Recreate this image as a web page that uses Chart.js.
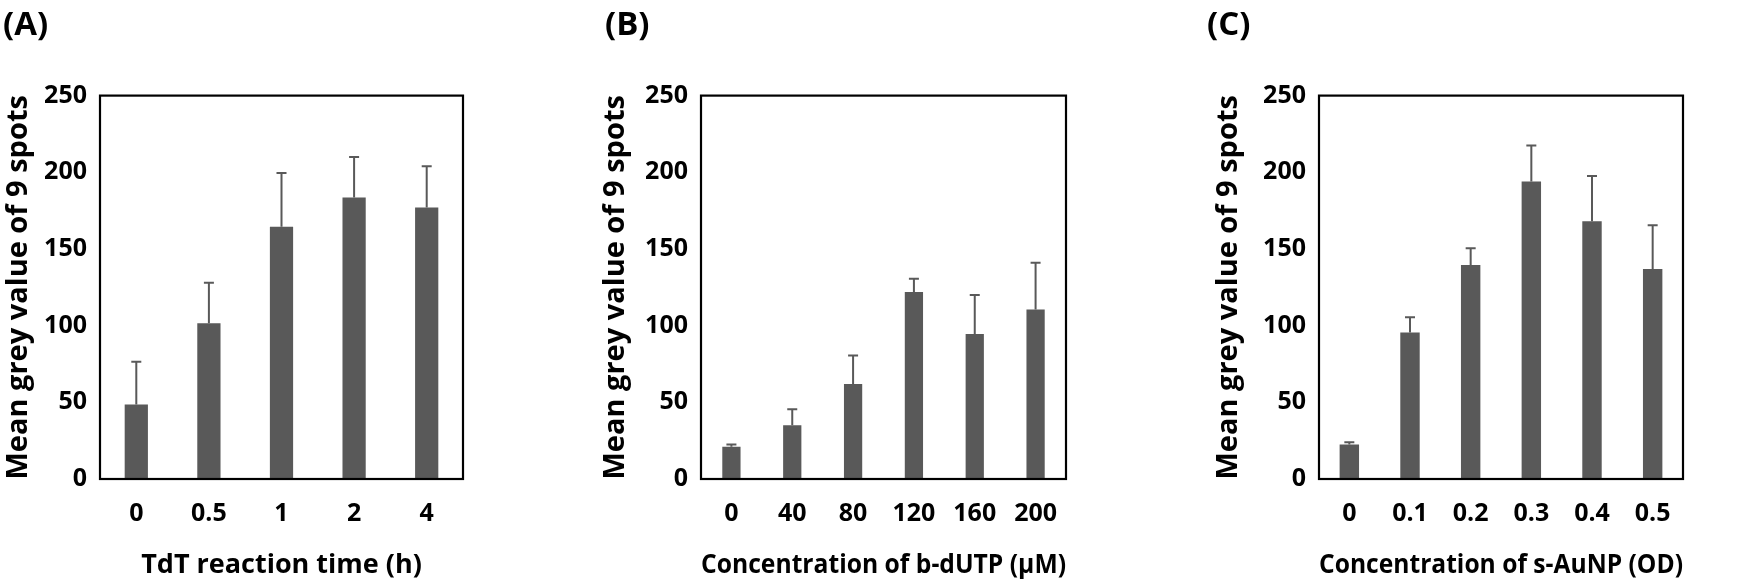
<!DOCTYPE html>
<html>
<head>
<meta charset="utf-8">
<script src="https://cdn.jsdelivr.net/npm/chart.js@4.4.1/dist/chart.umd.min.js"></script>
<style>
  html, body { margin: 0; padding: 0; background: #fff; }
  #wrap { position: relative; width: 1762px; height: 587px; overflow: hidden; }
  canvas { position: absolute; top: 0; }
</style>
</head>
<body>
<div id="wrap">
  <canvas id="chartA" width="590" height="587" style="left:0px"></canvas>
  <canvas id="chartB" width="590" height="587" style="left:590px"></canvas>
  <canvas id="chartC" width="582" height="587" style="left:1180px"></canvas>
</div>
<script>
// shared y axis ticks
const yTicks = [0, 50, 100, 150, 200, 250];

// (A) TdT reaction time
const timeLabels = ["0", "0.5", "1", "2", "4"];
const timeMeans = [48.5, 101.5, 164.5, 183.5, 177];
const timeErrors = [28, 26.5, 35, 26.5, 27];

// (B) b-dUTP concentration
const dutpLabels = ["0", "40", "80", "120", "160", "200"];
const dutpMeans = [21, 35, 62, 122, 94.5, 110.5];
const dutpErrors = [1.5, 10.5, 18.5, 8.5, 25.5, 30.5];

// (C) s-AuNP concentration
const aunpLabels = ["0", "0.1", "0.2", "0.3", "0.4", "0.5"];
const aunpMeans = [22.5, 95.5, 139.5, 194, 168, 137];
const aunpErrors = [1.5, 10, 11, 23.5, 29.5, 28.5];

const BAR_COLOR = "#595959";
const FONT = "'Open Sans', 'Noto Sans', sans-serif";

Chart.defaults.color = "#000";
Chart.defaults.font.family = FONT;

// error bars (upper only) + black frame round the plot area
const frameAndErrors = {
  id: "frameAndErrors",
  afterDatasetsDraw(chart) {
    const { ctx, chartArea: a, scales: { x, y } } = chart;
    const ds = chart.data.datasets[0];
    ctx.save();
    ctx.strokeStyle = BAR_COLOR;
    ctx.lineWidth = 2;
    ds.data.forEach((v, i) => {
      const px = x.getPixelForValue(i);
      const y0 = y.getPixelForValue(v);
      const y1 = y.getPixelForValue(v + ds.errors[i]);
      ctx.beginPath();
      ctx.moveTo(px, y0);
      ctx.lineTo(px, y1);
      ctx.moveTo(px - 5, y1);
      ctx.lineTo(px + 5, y1);
      ctx.stroke();
    });
    ctx.strokeStyle = "#000";
    ctx.lineWidth = 2.2;
    ctx.strokeRect(a.left, a.top, a.width, a.height);
    ctx.restore();
  },
};

function makeChart(id, p) {
  return new Chart(document.getElementById(id), {
    type: "bar",
    data: {
      labels: p.labels,
      datasets: [
        {
          data: p.means,
          errors: p.errors,
          backgroundColor: BAR_COLOR,
          borderWidth: 0,
          barPercentage: p.barPct,
          categoryPercentage: 1,
        },
      ],
    },
    options: {
      responsive: false,
      animation: false,
      layout: { padding: { left: p.padLeft, right: p.padRight, top: 0, bottom: 0 } },
      plugins: {
        legend: { display: false },
        tooltip: { enabled: false },
        title: {
          display: true,
          text: p.panel,
          align: "start",
          color: "#000",
          font: { size: 33, weight: "bold", lineHeight: 1.2 },
          padding: { top: 6, bottom: 50 },
        },
      },
      scales: {
        x: {
          grid: { display: false, drawTicks: false },
          border: { display: false },
          ticks: { padding: 20, font: { size: 25, weight: "bold", lineHeight: 1.2 } },
          title: {
            display: true,
            text: p.xTitle,
            font: { size: 27, weight: "bold", lineHeight: 1 },
            padding: { top: 0, bottom: 8 },
          },
          afterFit: (s) => { s.height = 108; },
        },
        y: {
          min: yTicks[0],
          max: yTicks[yTicks.length - 1],
          grid: { display: false, drawTicks: false },
          border: { display: false },
          ticks: {
            stepSize: yTicks[1] - yTicks[0],
            padding: 13,
            font: { size: 25, weight: "bold" },
          },
          title: {
            display: true,
            text: "Mean grey value of 9 spots",
            font: { size: 29, weight: "bold", lineHeight: 1 },
            padding: { top: p.yTitlePad, bottom: 0 },
          },
          afterFit: (s) => { s.width = p.axisWidth; },
        },
      },
    },
    plugins: [frameAndErrors],
  });
}

makeChart("chartA", {
  panel: "(A)", labels: timeLabels, means: timeMeans, errors: timeErrors,
  xTitle: "TdT reaction time (h)", barPct: 0.32,
  padLeft: 3, padRight: 127, axisWidth: 97, yTitlePad: 1,
});
makeChart("chartB", {
  panel: "(B)", labels: dutpLabels, means: dutpMeans, errors: dutpErrors,
  xTitle: "Concentration of b-dUTP (\u03bcM)", barPct: 0.3,
  padLeft: 15, padRight: 114, axisWidth: 96, yTitlePad: -4,
});
makeChart("chartC", {
  panel: "(C)", labels: aunpLabels, means: aunpMeans, errors: aunpErrors,
  xTitle: "Concentration of s-AuNP (OD)", barPct: 0.32,
  padLeft: 27, padRight: 79, axisWidth: 112, yTitlePad: 7,
});
</script>
</body>
</html>
